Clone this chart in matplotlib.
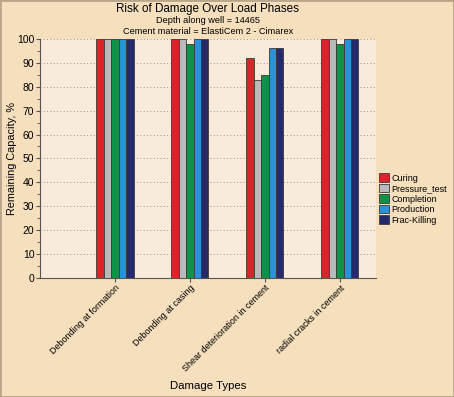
import numpy as np
import matplotlib
matplotlib.use("Agg")
import matplotlib.pyplot as plt
from matplotlib.ticker import MultipleLocator

plt.rcParams['font.family'] = ['Liberation Sans', 'DejaVu Sans']

# data
damage_types = ["Debonding at formation", "Debonding at casing",
                "Shear deterioration in cement", "radial cracks in cement"]
phases = ["Curing", "Pressure_test", "Completion", "Production", "Frac-Killing"]
curing = [100, 100, 92, 100]
pressure_test = [100, 100, 83, 100]
completion = [100, 98, 85, 98]
production = [100, 100, 96, 100]
frac_killing = [100, 100, 96, 100]
values = [curing, pressure_test, completion, production, frac_killing]
colors = ["#d92429", "#b9b9b9", "#0f9247", "#2a90d8", "#252a6c"]

fig = plt.figure(figsize=(4.54, 3.97), dpi=100, facecolor="#f5dfbd")
ax = fig.add_axes([0.088, 0.300, 0.740, 0.602])
ax.set_facecolor("#f9ebd9")

x = np.arange(len(damage_types))
w = 0.099
for i, (name, vals) in enumerate(zip(phases, values)):
    ax.bar(x + (i - 2) * w, vals, w, color=colors[i], edgecolor="#3a3a3a",
           linewidth=0.6, label=name, zorder=3)

ax.set_xlim(-1, 3.48)
ax.set_ylim(0, 100)
ax.yaxis.set_major_locator(MultipleLocator(10))
ax.yaxis.set_minor_locator(MultipleLocator(5))
ax.grid(axis="y", linestyle=(0, (1, 3)), color="#777777", linewidth=0.6, zorder=0)
for s in ["top", "right"]:
    ax.spines[s].set_visible(False)
for s in ["left", "bottom"]:
    ax.spines[s].set_color("#555555")
    ax.spines[s].set_linewidth(0.8)
ax.tick_params(axis="both", labelsize=7.5, length=3, color="#555555", pad=1)
ax.tick_params(axis="y", which="minor", length=2, color="#555555")
ax.set_xticks(x)
ax.set_xticklabels(damage_types, rotation=45, ha="right", rotation_mode="anchor",
                   fontsize=6.5)

ax.set_ylabel("Remaining Capacity, %", fontsize=7.8)
ax.yaxis.set_label_coords(-0.068, 0.5)
ax.set_xlabel("Damage Types", fontsize=8.2)
ax.xaxis.set_label_coords(0.5, -0.43)

fig.text(0.458, 0.978, "Risk of Damage Over Load Phases", ha="center", va="center", fontsize=8.4)
fig.text(0.458, 0.949, "Depth along well = 14465", ha="center", va="center", fontsize=6.6)
fig.text(0.458, 0.921, "Cement material = ElastiCem 2 - Cimarex", ha="center", va="center", fontsize=6.6)

ax.legend(loc="center left", bbox_to_anchor=(1.0, 0.33), frameon=False, fontsize=6.5,
          handlelength=1.1, handleheight=1.0, handletextpad=0.3, labelspacing=0.15,
          borderaxespad=0.3, borderpad=0.0)

fig.patches.append(plt.Rectangle((0, 0), 1, 1, transform=fig.transFigure, fill=False,
                                 edgecolor="#b9a58a", linewidth=2))

fig.savefig("out.png", dpi=100, facecolor=fig.get_facecolor())
